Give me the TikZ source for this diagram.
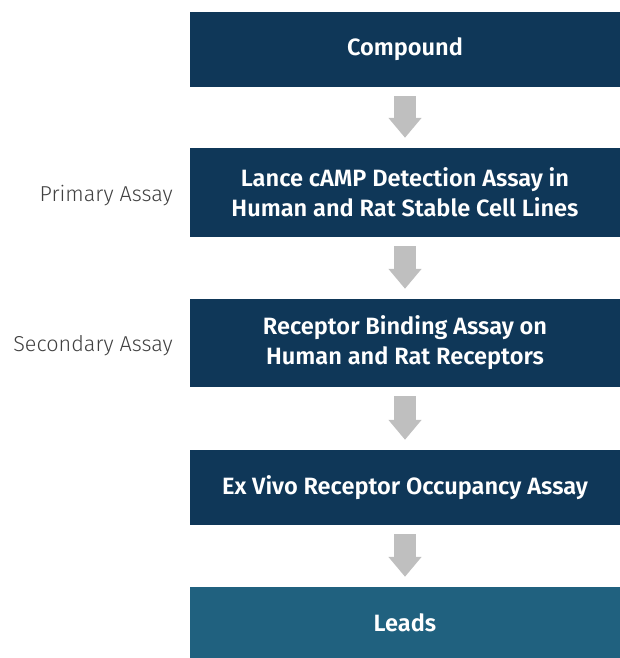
\documentclass[tikz,border=0pt]{standalone}
\usepackage{fontspec}
\setmainfont{Fira Sans}
\newfontfamily\boxfont{Fira Sans SemiBold}
\newfontfamily\sidefont{Fira Sans Light}
\usetikzlibrary{arrows.meta}
\definecolor{navy}{HTML}{0F3758}
\definecolor{leadblue}{HTML}{20617F}
\definecolor{arrowgray}{HTML}{BFBFBF}
\definecolor{sidegray}{HTML}{404040}

\begin{document}
\begin{tikzpicture}
[x=1pt, y=1pt,
 box/.style={fill=navy, text=white, minimum width=430pt, inner sep=0pt,
   align=center, font=\boxfont\fontsize{23.6}{30}\selectfont},
 side/.style={anchor=east, text=sidegray, inner sep=0pt,
   font=\sidefont\fontsize{21.6}{26}\selectfont},
 flow/.style={arrowgray, line width=22pt,
   -{Triangle[width=32pt, length=20pt]}}]

\useasboundingbox (0,0) rectangle (620,-658);

\node [box, minimum height=75pt] (compound) at (405,-49.5) {Compound};
\node [box, minimum height=89pt] (lance) at (405,-192.5)
 {Lance cAMP Detection Assay in\\Human and Rat Stable Cell Lines};
\node [box, minimum height=88pt] (binding) at (405,-343)
 {Receptor Binding Assay on\\Human and Rat Receptors};
\node [box, minimum height=75pt] (exvivo) at (405,-487.5)
 {Ex Vivo Receptor Occupancy Assay};
\node [box, fill=leadblue, minimum height=71pt] (leads) at (405,-622.5) {Leads};

\node [side] (primary) at (173,-196) {Primary Assay};
\node [side] (secondary) at (173,-346) {Secondary Assay};

\draw [flow] ([yshift=-9pt]compound.south) -- ([yshift=10pt]lance.north);
\draw [flow] ([yshift=-9pt]lance.south) -- ([yshift=10pt]binding.north);
\draw [flow] ([yshift=-9pt]binding.south) -- ([yshift=10pt]exvivo.north);
\draw [flow] ([yshift=-9pt]exvivo.south) -- ([yshift=10pt]leads.north);
\end{tikzpicture}
\end{document}
